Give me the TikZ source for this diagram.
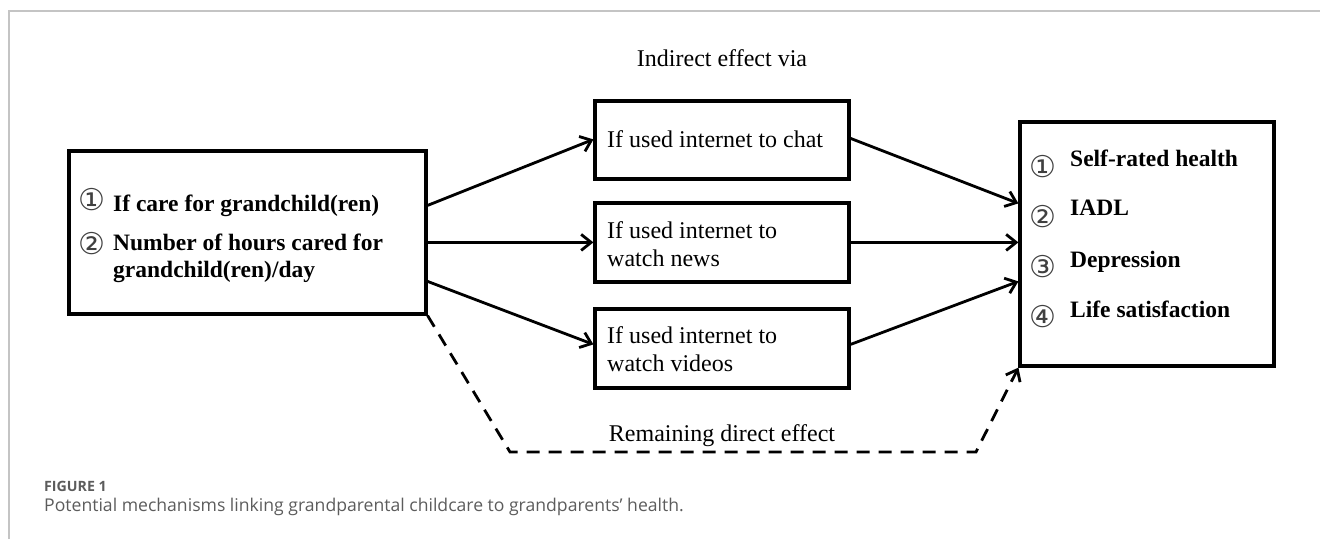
\documentclass[tikz,border=0pt]{standalone}
\usepackage{fontspec}
\setmainfont{Liberation Serif}
\newfontfamily\circfont{DejaVu Sans}
\newfontfamily\capfont{Open Sans}
\usetikzlibrary{arrows.meta,calc}
\definecolor{framegray}{HTML}{C4C4C4}
\definecolor{capgray}{HTML}{5C5C5C}
\begin{document}
\begin{tikzpicture}[x=1pt,y=-1pt,
  box/.style={draw, line width=3.2pt, inner sep=0pt},
  conn/.style={line width=2.8pt, -{Straight Barb[length=10pt,width=16pt]}},
  dline/.style={line width=2.8pt, dash pattern=on 13pt off 9pt, -{Straight Barb[length=10pt,width=16pt]}},
  reg/.style={inner sep=0pt, font=\fontsize{24}{28}\selectfont},
  bld/.style={inner sep=0pt, font=\fontsize{23.5}{27}\selectfont\bfseries},
  circ/.style={inner sep=0pt, text=black!75, font=\circfont\fontsize{30}{34}\selectfont},
  captxt/.style={inner sep=0pt, text=capgray}]
\useasboundingbox (0,0) rectangle (1320,539);
\draw[framegray, line width=1.3pt] (9,539) -- (9,11) -- (1320,11);

% boxes
\node[box, minimum width=357pt, minimum height=163pt] (L) at (247.5,232.5) {};
\node[box, minimum width=254pt, minimum height=78pt] (M1) at (722,140) {};
\node[box, minimum width=254pt, minimum height=79pt] (M2) at (722,242.5) {};
\node[box, minimum width=254pt, minimum height=79pt] (M3) at (722,348.5) {};
\node[box, minimum width=254pt, minimum height=244pt] (R) at (1147,244) {};

% texts
\node[reg, anchor=base] (ttl) at (722,66) {Indirect effect via};
\node[reg, anchor=base west] (t1) at (607,147) {If used internet to chat};
\node[reg, anchor=base west] (t2a) at (607,238) {If used internet to};
\node[reg, anchor=base west] (t2b) at (607,266) {watch news};
\node[reg, anchor=base west] (t3a) at (607,343) {If used internet to};
\node[reg, anchor=base west] (t3b) at (607,371) {watch videos};

\node[circ] (lc1) at (92,200) {①};
\node[circ] (lc2) at (92,244) {②};
\node[bld, anchor=base west] (l1) at (113,211) {If care for grandchild(ren)};
\node[bld, anchor=base west] (l2) at (113,250) {Number of hours cared for};
\node[bld, anchor=base west] (l3) at (113,277) {grandchild(ren)/day};

\node[circ] (rc1) at (1043,167) {①};
\node[circ] (rc2) at (1043,217) {②};
\node[circ] (rc3) at (1043,267) {③};
\node[circ] (rc4) at (1043,317) {④};
\node[bld, anchor=base west] (r1) at (1070,166) {Self-rated health};
\node[bld, anchor=base west] (r2) at (1070,215) {IADL};
\node[bld, anchor=base west] (r3) at (1070,267) {Depression};
\node[bld, anchor=base west] (r4) at (1070,317) {Life satisfaction};

\node[reg, anchor=base] (rem) at (722,441) {Remaining direct effect};

% connectors
\draw[conn] ($(L.north east)+(0,56)$) -- ($(M1.north west)+(0,40)$);
\draw[conn] ($(L.north east)+(0,93)$) -- ($(M2.north west)+(0,41)$);
\draw[conn] ($(L.north east)+(0,132)$) -- ($(M3.north west)+(0,37)$);
\draw[conn] ($(M1.north east)+(0,39)$) -- ($(R.north west)+(0,83)$);
\draw[conn] ($(M2.north east)+(0,41)$) -- ($(R.north west)+(0,122)$);
\draw[conn] ($(M3.north east)+(0,37)$) -- ($(R.north west)+(0,161)$);

\coordinate (d1) at (510,452);
\coordinate (d2) at (976,452);
\draw[dline] (L.south east) -- (d1) -- (d2) -- (R.south west);

% caption
\node[captxt, anchor=base west, font=\capfont\fontsize{14.2}{16}\selectfont\bfseries] (fig) at (44,491) {FIGURE 1};
\node[captxt, anchor=base west, font=\capfont\fontsize{17.6}{20}\selectfont] (capt) at (44,511) {Potential mechanisms linking grandparental childcare to grandparents’ health.};
\end{tikzpicture}
\end{document}
